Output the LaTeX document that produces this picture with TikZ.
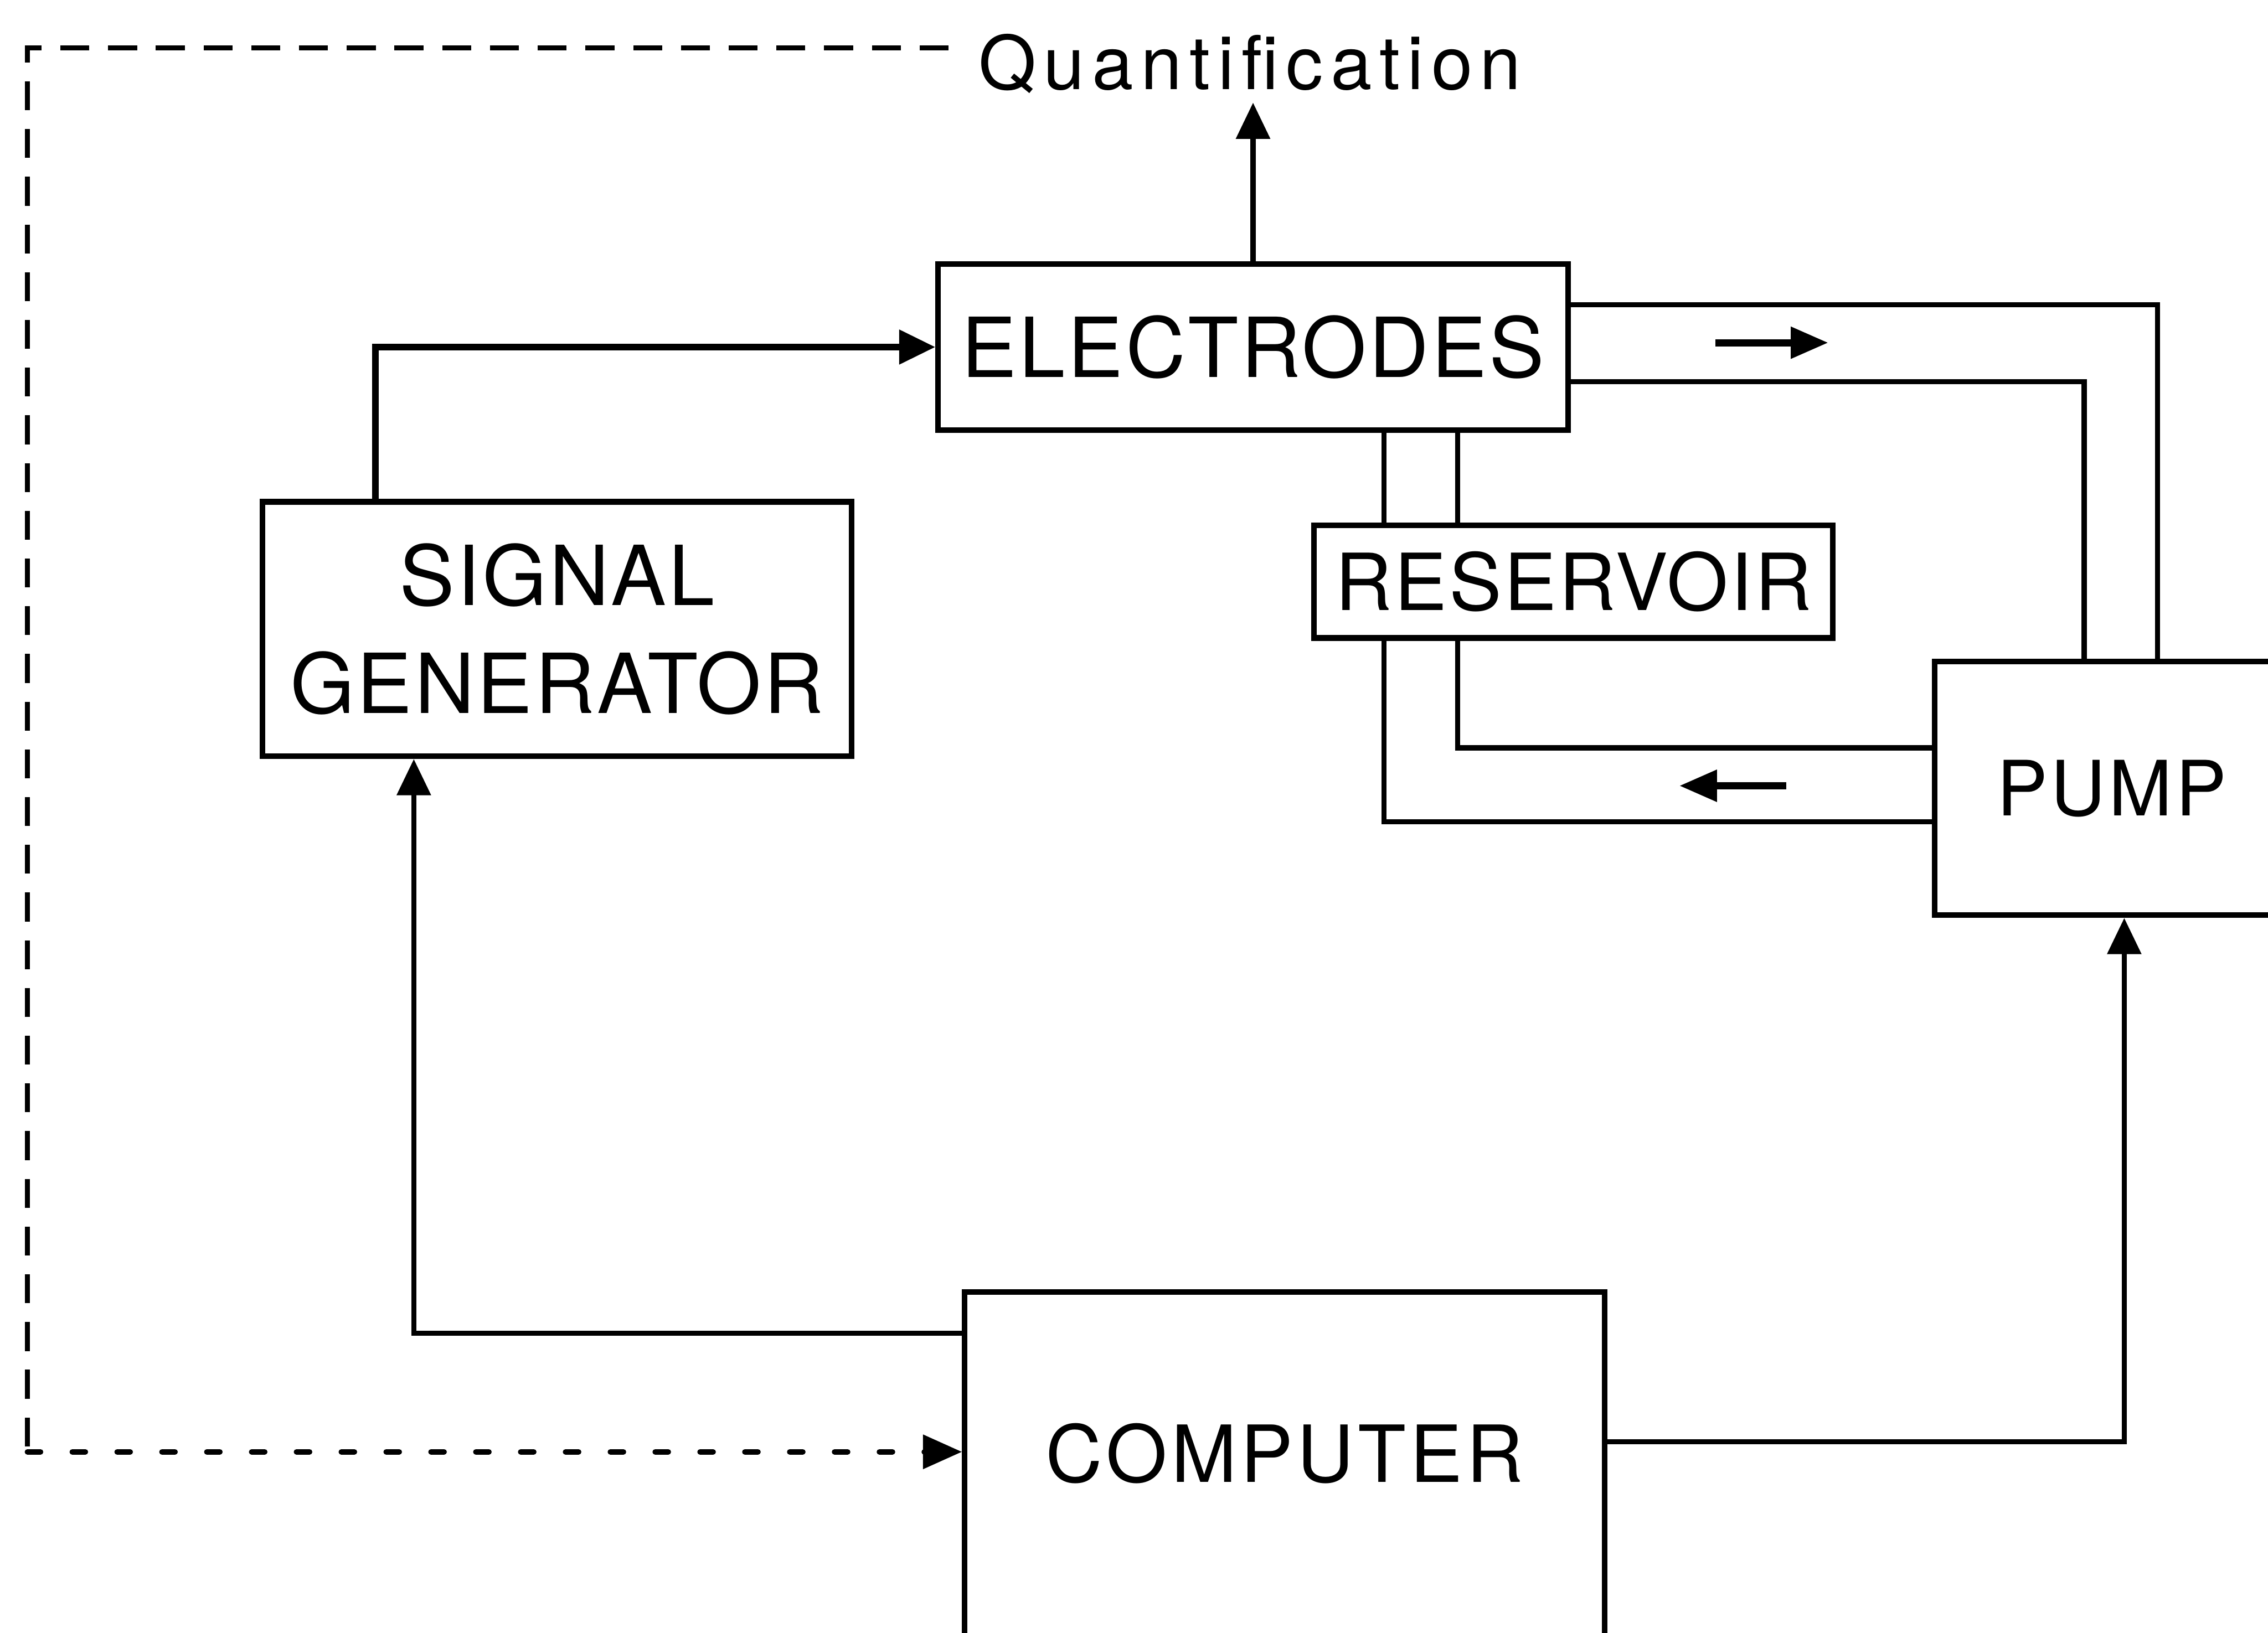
\documentclass[tikz,border=0pt]{standalone}
\usepackage{fontspec}
\setmainfont{TeX Gyre Heros}
\usetikzlibrary{arrows.meta,calc,positioning}

\begin{document}
\begin{tikzpicture}[
  box/.style={draw,line width=1.1pt,inner sep=0pt,align=center},
  link/.style={line width=1pt},
  sig/.style={line width=1pt,-{Triangle[length=2.5mm,width=2.3mm]}},
  flow/.style={line width=1.4pt,-{Triangle[length=2.6mm,width=2.1mm]}},
  loop/.style={line width=1pt,dash pattern=on 2mm off 1.3mm},
  dotloop/.style={line width=1.1pt,line cap=round,dash pattern=on 0.9mm off 2.2mm,
    -{Triangle[length=2.7mm,width=2.3mm]}}
]
  \useasboundingbox (0,0) rectangle (15.68,-11.29);
  \clip (0,0) rectangle (15.68,-11.29);

  % blocks
  \node[box,minimum width=4.354cm,minimum height=1.15cm,
    font=\fontsize{16.3}{19}\selectfont\addfontfeature{LetterSpace=3}] (electrodes) at (8.663,-2.40) {ELECTRODES};
  \node[box,minimum width=4.07cm,minimum height=1.76cm,
    font=\fontsize{16.3}{21.3}\selectfont\addfontfeature{LetterSpace=3}] (signal) at (3.851,-4.35) {SIGNAL\\GENERATOR};
  \node[box,minimum width=3.585cm,minimum height=0.778cm,
    font=\fontsize{15.5}{18}\selectfont\addfontfeature{LetterSpace=3}] (reservoir) at (10.878,-4.023) {RESERVOIR};
  \node[box,minimum width=2.45cm,minimum height=1.755cm,
    font=\fontsize{15}{18}\selectfont\addfontfeature{LetterSpace=4}] (pump) at (14.599,-5.4515) {PUMP};
  \node[box,minimum width=4.424cm,anchor=north,text height=1.315cm,text depth=1.6cm,
    font=\fontsize{15.5}{18}\selectfont\addfontfeature{LetterSpace=5}] (computer) at (8.882,-8.915) {COMPUTER};
  \node[font=\fontsize{14.6}{17}\selectfont\addfontfeature{LetterSpace=10},
    inner xsep=2mm,inner ysep=0.85mm,text depth=0pt,anchor=base] (quant) at (8.641,-0.618) {Quantification};

  % signal paths
  \draw[sig,line width=1.3pt] ([xshift=-12.54mm]signal.north) |- (electrodes.west);
  \draw[sig] (electrodes.north) -- (electrodes.north |- quant.south);
  \draw[sig] ([yshift=-3.05mm]computer.north west) -| ([xshift=-9.9mm]signal.south);
  \draw[sig] ([yshift=-10.55mm]computer.north east) -| ([xshift=0.87mm]pump.south);

  % tubing
  \draw[link] ([yshift=-3.02mm]electrodes.north east) -| ([xshift=3.17mm]pump.north);
  \draw[link] ([yshift=-8.33mm]electrodes.north east) -| ([xshift=-1.9mm]pump.north);
  \coordinate (resInL) at ([xshift=-13.1mm]reservoir.north);
  \coordinate (resInR) at ([xshift=-8mm]reservoir.north);
  \draw[link] (resInL) -- (resInL |- electrodes.south);
  \draw[link] (resInR) -- (resInR |- electrodes.south);
  \draw[link] ([xshift=-8mm]reservoir.south) |- ([yshift=2.8mm]pump.west);
  \draw[link] ([xshift=-13.1mm]reservoir.south) |- ([yshift=-2.3mm]pump.west);

  % flow direction
  \coordinate (fwdA) at (11.86,-2.37);
  \coordinate (fwdB) at (12.64,-2.37);
  \coordinate (backA) at (12.35,-5.434);
  \coordinate (backB) at (11.61,-5.434);
  \draw[flow] (fwdA) -- (fwdB);
  \draw[flow] (backA) -- (backB);

  % quantification loop
  \coordinate (loopTop) at (0.19,-0.33);
  \coordinate (loopBot) at (0.19,-10.04);
  \draw[loop] (quant.west |- loopTop) -- (loopTop) -- (loopBot);
  \draw[dotloop] (loopBot) -- (computer.west |- loopBot);
\end{tikzpicture}
\end{document}
